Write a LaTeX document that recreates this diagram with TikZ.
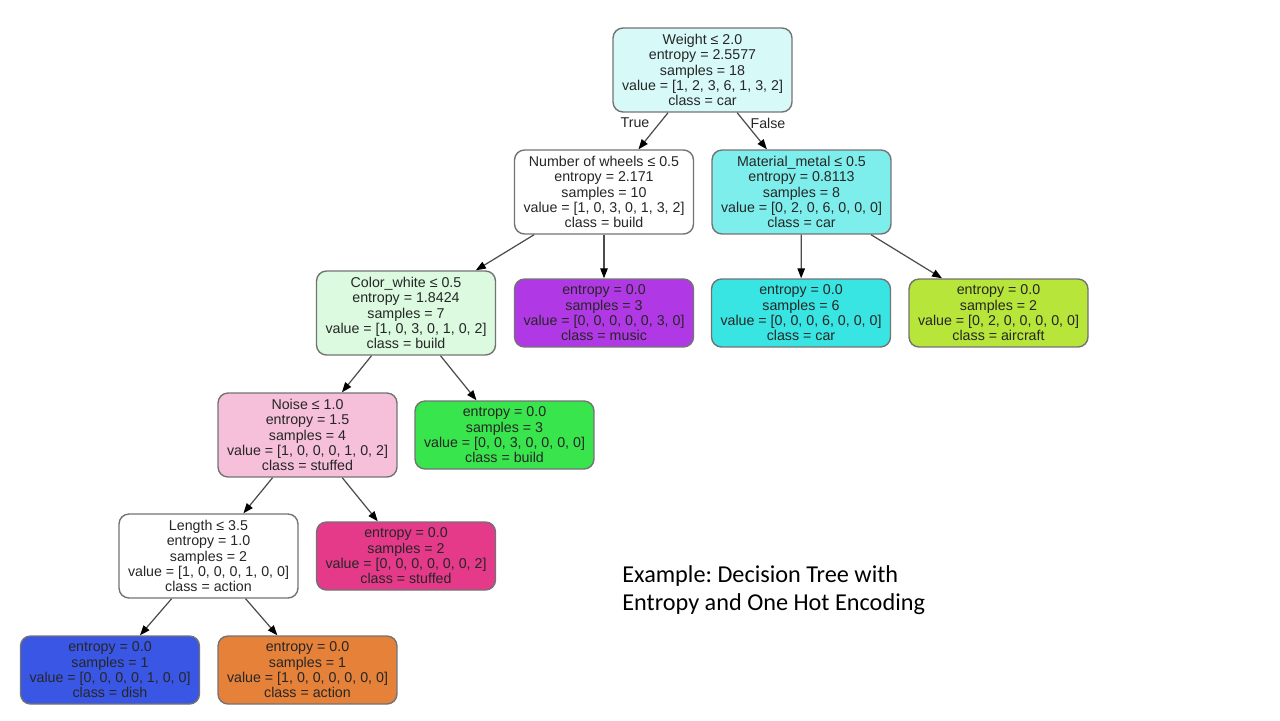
\documentclass[tikz,border=0pt]{standalone}
\usepackage{fontspec}
\setmainfont{Liberation Sans}
\newfontfamily\captionfont{Carlito}
\usetikzlibrary{arrows.meta}
\frenchspacing
\definecolor{clsbuild}{RGB}{57,229,77}
\definecolor{clscar}{RGB}{57,229,226}
\definecolor{clsstuffed}{RGB}{229,57,138}
\definecolor{clsmusic}{RGB}{177,57,229}
\definecolor{clsaircraft}{RGB}{183,229,57}
\definecolor{clsdish}{RGB}{57,86,229}
\definecolor{clsaction}{RGB}{229,129,57}

\begin{document}
\begin{tikzpicture}[x=0.02cm,y=-0.02cm,
    box/.style={draw=black!55,line width=0.8pt,rounded corners=0.2cm,
      minimum width=3.58cm,inner sep=0pt,align=center,text=black!85,
      font=\fontsize{8.1}{8.7}\selectfont},
    split/.style={box,minimum height=1.68cm},
    leaf/.style={box,minimum height=1.36cm},
    edge/.style={black!70,line width=0.7pt,
      -{Triangle[length=0.2cm,width=0.15cm,color=black]}},
    elabel/.style={text=black!85,font=\fontsize{8.1}{8.7}\selectfont}]
      \useasboundingbox (0,0) rectangle (1280,720);
      \node[split,fill=clscar!20!white] (A) at (702.5,70) {Weight ≤ 2.0\\entropy = 2.5577\\samples = 18\\value = [1, 2, 3, 6, 1, 3, 2]\\class = car};
      \node[split,fill=white] (B) at (604,192) {Number of wheels ≤ 0.5\\entropy = 2.171\\samples = 10\\value = [1, 0, 3, 0, 1, 3, 2]\\class = build};
      \node[split,fill=clscar!65!white] (C) at (801.5,192) {Material\_metal ≤ 0.5\\entropy = 0.8113\\samples = 8\\value = [0, 2, 0, 6, 0, 0, 0]\\class = car};
      \node[split,fill=clsbuild!18!white] (D) at (406,313) {Color\_white ≤ 0.5\\entropy = 1.8424\\samples = 7\\value = [1, 0, 3, 0, 1, 0, 2]\\class = build};
      \node[leaf,fill=clsmusic] (E) at (604,313) {entropy = 0.0\\samples = 3\\value = [0, 0, 0, 0, 0, 3, 0]\\class = music};
      \node[leaf,fill=clscar] (F) at (801,313) {entropy = 0.0\\samples = 6\\value = [0, 0, 0, 6, 0, 0, 0]\\class = car};
      \node[leaf,fill=clsaircraft] (G) at (998.5,313) {entropy = 0.0\\samples = 2\\value = [0, 2, 0, 0, 0, 0, 0]\\class = aircraft};
      \node[split,fill=clsstuffed!32!white] (H) at (307.5,435) {Noise ≤ 1.0\\entropy = 1.5\\samples = 4\\value = [1, 0, 0, 0, 1, 0, 2]\\class = stuffed};
      \node[leaf,fill=clsbuild] (I) at (504.5,435) {entropy = 0.0\\samples = 3\\value = [0, 0, 3, 0, 0, 0, 0]\\class = build};
      \node[split,fill=white] (J) at (208.5,556) {Length ≤ 3.5\\entropy = 1.0\\samples = 2\\value = [1, 0, 0, 0, 1, 0, 0]\\class = action};
      \node[leaf,fill=clsstuffed] (K) at (406,556) {entropy = 0.0\\samples = 2\\value = [0, 0, 0, 0, 0, 0, 2]\\class = stuffed};
      \node[leaf,fill=clsdish] (L) at (110,670) {entropy = 0.0\\samples = 1\\value = [0, 0, 0, 0, 1, 0, 0]\\class = dish};
      \node[leaf,fill=clsaction] (M) at (307.5,670) {entropy = 0.0\\samples = 1\\value = [1, 0, 0, 0, 0, 0, 0]\\class = action};
      \draw[edge] (A)--(B);
      \draw[edge] (A)--(C);
      \draw[edge] (B)--(D);
      \draw[edge] (B)--(E);
      \draw[edge] (C)--(F);
      \draw[edge] (C)--(G);
      \draw[edge] (D)--(H);
      \draw[edge] (D)--(I);
      \draw[edge] (H)--(J);
      \draw[edge] (H)--(K);
      \draw[edge] (J)--(L);
      \draw[edge] (J)--(M);
      \node[elabel] (T) at (635,123) {True};
      \node[elabel] (Fa) at (768,123) {False};
      \node[font=\captionfont\fontsize{13.8}{15.9}\selectfont,align=left,
        anchor=base west,inner sep=0pt] (cap) at (622,610)
        {Example: Decision Tree with\\Entropy and One Hot Encoding};
    \end{tikzpicture}
\end{document}
